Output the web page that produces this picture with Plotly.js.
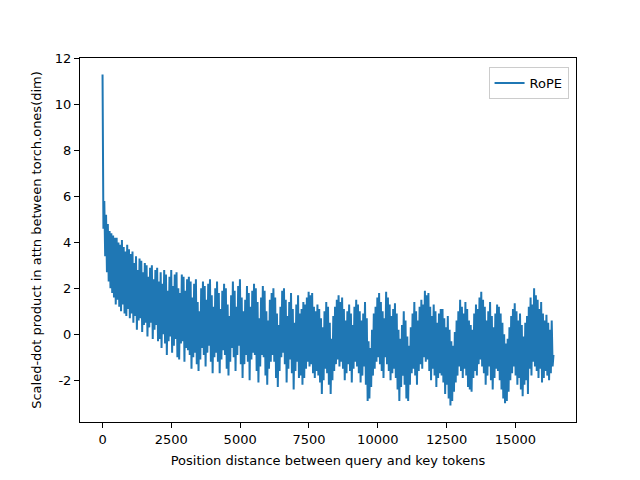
<!DOCTYPE html>
<html>
<head>
<meta charset="utf-8">
<script src="https://cdn.plot.ly/plotly-3.0.1.min.js"></script>
<style>html,body{margin:0;padding:0;background:#fff}#chart{width:640px;height:480px}</style>
</head>
<body>
<div id="chart"></div>
<script>
// Head of the curve (dense samples near distance 0)
const headDistance = [0, 8, 16];
const headScore = [11.31, 6.9, 6.2];

// Body: the fast oscillation alternates between a local low (at 32 + 64k)
// and a local high (at 64 + 64k).
const bodyStep = 64;
const lowScore = [
  4.6, 3.4, 2.7, 2.3, 2.0, 1.8, 1.6, 1.3, 1.5, 1.2, 1.0, 1.3, 0.9, 0.8, 1.1, 0.7,
  0.9, 0.5, 0.8, 0.2, 0.6, 0.7, 0.1, 0.4, 0.5, -0.1, 0.3, 0.5, -0.2, 0.2, 0.4, -0.3,
  -0.2, -0.6, 0.0, -0.4, -0.9, -0.3, -0.1, -0.8, -0.5, -0.2, -1.0, -1.1, -0.4, -0.3, -1.2, -0.6,
  -0.7, -0.9, -1.5, -1.0, -0.8, -1.3, -1.6, -1.1, -0.6, -0.9, -1.4, -0.8, -0.5, -1.2, -1.7, -1.0,
  -0.8, -1.2, -1.7, -1.1, -0.7, -0.9, -1.5, -1.8, -1.2, -0.6, -1.0, -1.6, -0.9, -0.5, -1.3, -1.9,
  -1.3, -0.9, -1.2, -2.0, -1.1, -0.8, -0.9, -1.6, -2.1, -1.4, -0.9, -1.0, -1.8, -2.2, -1.5, -1.2,
  -0.9, -1.2, -1.9, -2.3, -1.6, -1.0, -0.8, -1.3, -2.1, -1.5, -1.1, -1.7, -2.4, -1.6, -1.2, -1.9,
  -1.8, -2.2, -1.9, -1.5, -1.2, -1.4, -1.3, -1.7, -1.9, -1.6, -1.8, -2.1, -2.6, -2.0, -1.5, -1.7,
  -2.2, -2.6, -2.0, -1.6, -1.3, -1.1, -1.4, -1.2, -1.5, -2.0, -1.7, -1.3, -1.6, -2.1, -1.5, -1.2,
  -1.4, -1.7, -2.1, -1.8, -1.4, -2.2, -2.9, -2.8, -2.3, -1.8, -1.5, -1.2, -1.0, -1.3, -1.6, -1.9,
  -1.0, -1.3, -1.6, -2.0, -1.7, -1.5, -1.9, -2.4, -2.9, -2.3, -1.8, -2.2, -2.8, -2.9, -2.2, -1.7,
  -1.5, -1.8, -2.2, -1.6, -1.3, -1.5, -1.0, -1.2, -1.1, -1.6, -2.0, -1.5, -1.8, -2.3, -1.9, -1.7,
  -1.8, -2.1, -2.6, -2.2, -2.8, -3.1, -2.9, -2.5, -2.1, -1.8, -1.4, -1.6, -1.9, -1.5, -1.8, -2.3,
  -2.4, -2.5, -1.9, -1.6, -1.8, -1.3, -1.1, -1.4, -1.7, -2.2, -1.8, -1.4, -2.0, -2.4, -1.9, -1.5,
  -1.6, -2.0, -2.4, -2.8, -3.0, -2.9, -2.5, -2.0, -1.7, -1.4, -1.8, -2.2, -1.9, -2.4, -2.7, -2.2,
  -2.0, -2.6, -1.5, -1.8, -1.2, -1.4, -1.6, -1.9, -1.5, -2.1, -1.9, -1.6, -1.8, -2.0, -1.7, -1.4
];
const highScore = [
  5.8, 5.2, 4.8, 4.5, 4.4, 4.3, 4.2, 4.2, 4.0, 3.9, 4.1, 3.8, 3.6, 3.9, 3.7, 3.5,
  3.6, 3.1, 3.4, 2.8, 3.3, 3.2, 2.7, 3.1, 3.0, 2.5, 2.9, 3.0, 2.4, 2.8, 2.9, 2.3,
  2.7, 2.2, 2.8, 2.6, 1.9, 2.5, 2.8, 2.1, 2.6, 2.7, 2.0, 1.8, 2.6, 2.5, 1.9, 2.4,
  2.5, 2.3, 1.6, 2.2, 2.4, 1.4, 1.0, 2.0, 2.3, 2.1, 1.5, 2.2, 2.4, 1.7, 1.2, 2.0,
  2.3, 1.8, 1.1, 1.9, 2.2, 2.0, 1.3, 0.8, 1.7, 2.3, 1.9, 1.2, 2.1, 2.4, 1.6, 1.0,
  1.5, 2.1, 1.8, 1.2, 1.9, 2.2, 2.0, 1.4, 0.7, 1.6, 2.1, 1.9, 1.0, 0.6, 1.5, 1.8,
  2.0, 1.6, 0.9, 0.4, 1.2, 1.9, 2.0, 1.5, 0.8, 1.4, 1.8, 1.1, 0.5, 1.3, 1.7, 0.9,
  1.1, 1.4, 1.3, 1.6, 1.85, 1.7, 1.8, 1.2, 1.0, 1.3, 1.1, 0.7, 0.3, 1.0, 1.4, 1.2,
  0.5, -0.2, 0.8, 1.2, 1.5, 1.7, 1.4, 1.6, 1.1, 0.6, 1.0, 1.3, 0.9, 0.4, 1.2, 1.5,
  1.3, 1.0, 0.6, 0.9, 1.4, 0.7, -0.3, -0.6, 0.2, 0.9, 1.2, 1.6, 1.8, 1.4, 1.0, 0.7,
  1.85, 1.6, 1.3, 0.8, 1.1, 1.35, 0.9, 0.2, -0.2, 0.4, 1.0, 0.6, -0.1, -0.5, 0.3, 0.9,
  1.4, 1.0, 0.6, 1.2, 1.5, 1.3, 1.9, 1.7, 1.8, 1.2, 0.8, 1.3, 1.0, 0.5, 0.9, 1.1,
  1.1, 0.7, 0.3, 0.8, 0.2, -0.3, -0.5, 0.1, 0.6, 1.0, 1.5, 1.2, 0.9, 1.4, 1.1, 0.6,
  0.4, 0.2, 0.9, 1.3, 1.1, 1.6, 1.85, 1.5, 1.2, 0.6, 1.0, 1.4, 0.8, 0.3, 0.9, 1.3,
  1.2, 0.9, 0.5, 0.0, -0.4, -0.2, 0.3, 0.8, 1.1, 1.35, 1.0, 0.6, 0.9, 0.4, -0.1, 0.5,
  0.8, 1.2, 1.6, 1.3, 2.0, 1.7, 1.5, 1.1, 1.4, 0.9, 0.6, 0.85, 0.5, 0.2, 0.6, -0.9
];

const seriesName = 'RoPE';
const xTitle = 'Position distance between query and key tokens';
const yTitle = 'Scaled-dot product in attn between torch.ones(dim)';
const xTickVals = [0, 2500, 5000, 7500, 10000, 12500, 15000];
const yTickVals = [-2, 0, 2, 4, 6, 8, 10, 12];

const xs = headDistance.slice();
const ys = headScore.slice();
for (let k = 0; k < lowScore.length; k++) {
  xs.push(32 + k * bodyStep); ys.push(lowScore[k]);
  xs.push(64 + k * bodyStep); ys.push(highScore[k]);
}

const font = {family: 'DejaVu Sans', size: 13, color: '#000'};

Plotly.newPlot('chart', [{
  x: xs, y: ys, type: 'scatter', mode: 'lines', name: seriesName,
  line: {color: '#1f77b4', width: 2}
}], {
  width: 640, height: 480,
  margin: {l: 80, r: 64, t: 58, b: 58},
  paper_bgcolor: '#fff', plot_bgcolor: '#fff',
  font: font,
  showlegend: true,
  legend: {x: 0.985, y: 0.975, xanchor: 'right', yanchor: 'top',
           bordercolor: '#cccccc', borderwidth: 1, bgcolor: 'rgba(255,255,255,0.8)',
           font: font},
  xaxis: {
    range: [-819, 17202], tickvals: xTickVals, ticktext: xTickVals.map(String),
    showgrid: false, zeroline: false, showline: true, mirror: true,
    linecolor: '#000', linewidth: 1, ticks: 'outside', ticklen: 5, tickcolor: '#000',
    tickfont: font, title: {text: xTitle, font: font, standoff: 10}
  },
  yaxis: {
    range: [-3.82, 12.03], tickvals: yTickVals, ticktext: yTickVals.map(String),
    showgrid: false, zeroline: false, showline: true, mirror: true,
    linecolor: '#000', linewidth: 1, ticks: 'outside', ticklen: 5, tickcolor: '#000',
    tickfont: font, title: {text: yTitle, font: font, standoff: 10}
  }
}, {displayModeBar: false, staticPlot: true});
</script>
</body>
</html>
